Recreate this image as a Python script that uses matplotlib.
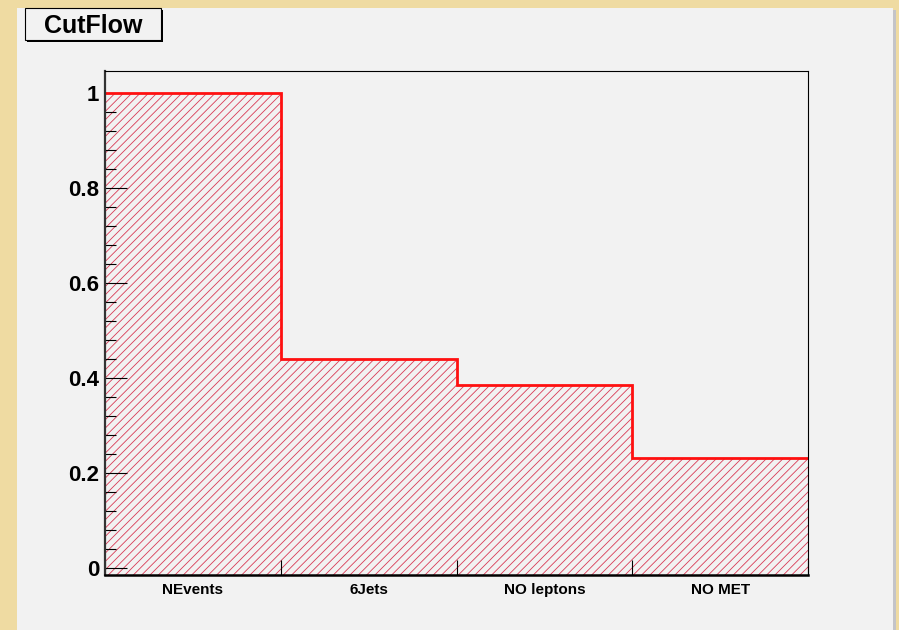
import numpy as np
import matplotlib.pyplot as plt
from matplotlib.patches import Rectangle

# Cut flow (fraction of events surviving each cut)
cuts = ['NEvents', '6Jets', 'NO leptons', 'NO MET']
fractions = [1.0, 0.44, 0.386, 0.232]

plt.rcParams['font.family'] = ['Liberation Sans', 'DejaVu Sans']
plt.rcParams['hatch.linewidth'] = 0.6

W, H = 899, 630
fig = plt.figure(figsize=(W / 100, H / 100), dpi=100)
fig.patch.set_facecolor('#efdba2')

# slide-like canvas with a shadow on the right
fig.patches.append(Rectangle((893 / W, 0), 3 / W, 1 - 10 / H, transform=fig.transFigure,
                             facecolor='#c4c4c8', edgecolor='none', zorder=-2))
fig.patches.append(Rectangle((17 / W, 0), 876 / W, 1 - 8 / H, transform=fig.transFigure,
                             facecolor='#f2f2f2', edgecolor='none', zorder=-2))

ax = fig.add_axes([105 / W, 1 - 575 / H, 703 / W, 504 / H])
ax.set_zorder(1)
ax.set_facecolor('#f2f2f2')

edges = np.arange(len(cuts) + 1)
centers = edges[:-1] + 0.5
ymin, ymax = -0.015, 1.046

# hatched fill down to the frame + red outline, ROOT style
ax.bar(edges[:-1], np.array(fractions) - ymin, bottom=ymin, width=1.0, align='edge',
       facecolor='none', edgecolor='#d83a55', hatch='////', linewidth=0, zorder=1)
ax.stairs(fractions, edges, baseline=None, color='#ff1010', linewidth=2, zorder=2)

ax.set_xlim(0, len(cuts))
ax.set_ylim(ymin, ymax)

# y axis
ax.set_yticks([0, 0.2, 0.4, 0.6, 0.8, 1.0])
ax.set_yticklabels(['0', '0.2', '0.4', '0.6', '0.8', '1'])
ax.set_yticks(np.arange(0, 1.001, 0.04), minor=True)
ax.tick_params(axis='y', which='major', direction='in', length=16, width=0.8,
               labelsize=16, pad=4, right=False)
ax.tick_params(axis='y', which='minor', direction='in', length=8, width=0.8, right=False)
for lbl in ax.get_yticklabels():
    lbl.set_fontweight('bold')

# x axis: ticks at bin edges, labels at bin centres
ax.set_xticks(edges)
ax.set_xticklabels([''] * len(edges))
ax.set_xticks(centers, minor=True)
ax.set_xticklabels(cuts, minor=True, fontsize=11, fontweight='bold')
ax.tick_params(axis='x', which='major', direction='in', length=11, width=0.8, top=False)
ax.tick_params(axis='x', which='minor', length=0, pad=6)

for side in ['top', 'right']:
    ax.spines[side].set_linewidth(0.8)
    ax.spines[side].set_color('black')
ax.spines['bottom'].set_linewidth(1.8)
ax.spines['left'].set_linewidth(1.6)
ax.spines['left'].set_color('#333333')

# title box
fig.patches.append(Rectangle((27 / W, 1 - 42 / H), 136 / W, 32 / H, transform=fig.transFigure,
                             facecolor='black', edgecolor='none', zorder=3))
fig.patches.append(Rectangle((25 / W, 1 - 40 / H), 136 / W, 32 / H, transform=fig.transFigure,
                             facecolor='#f2f2f2', edgecolor='black', linewidth=0.8, zorder=4))
fig.text(93 / W, 1 - 26 / H, 'CutFlow', fontsize=18, fontweight='bold',
         ha='center', va='center', zorder=5)

fig.savefig('out.png', dpi=100, facecolor=fig.get_facecolor())
